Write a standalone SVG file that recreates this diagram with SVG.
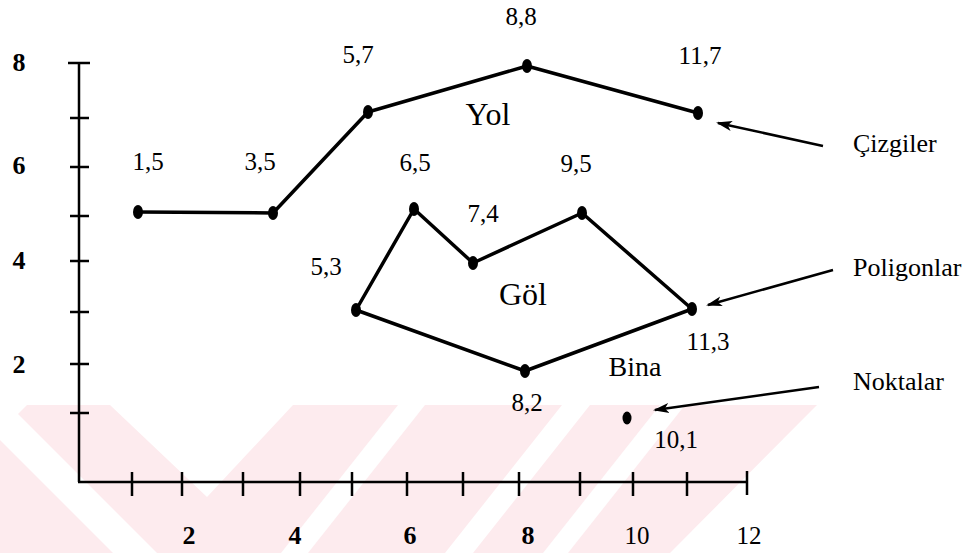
<svg xmlns="http://www.w3.org/2000/svg" width="975" height="553" viewBox="0 0 975 553" font-family="'Liberation Serif', 'Times New Roman', serif">
<style>
text{font-family:"Liberation Serif","Times New Roman",serif;fill:#000}
.n{font-size:25px}
.ax{font-size:26px;font-weight:bold}
.axr{font-size:25px}
.lbl{font-size:26px}
.big{font-size:32px}
.axis{stroke:#000;stroke-width:2.5;fill:none}
.tick{stroke:#000;stroke-width:2.5}
.edge{stroke:#000;stroke-width:3.5;fill:none;stroke-linejoin:round}
.arr{stroke:#000;stroke-width:2.5;fill:none}
.wm{fill:#fdebee}
.wh{fill:#fff}
</style>
<defs>
<marker id="ah" markerWidth="16" markerHeight="12" refX="14" refY="6" orient="auto" markerUnits="userSpaceOnUse">
<path d="M0,1 L16,6 L0,11 L4,6 Z" fill="#000"/>
</marker>
</defs>
<rect width="975" height="553" fill="#fff"/>
<g id="watermark">
<polygon class="wm" points="27,405 817,405 670,553 0,553 0,432"/>
<polygon class="wh" points="110,405 293,405 207,497"/>
<polygon class="wh" points="-35,405 9,405 157,553 113,553"/>
<polygon class="wh" points="398,405 425,405 308,553 281,553"/>
<polygon class="wh" points="562,405 590,405 473,553 445,553"/>
<polygon class="wh" points="660,405 685,405 568,553 543,553"/>
</g>
<g id="axes">
<line class="axis" x1="79" y1="63" x2="79" y2="482"/>
<line class="axis" x1="78" y1="482" x2="747" y2="482"/>
<line class="tick" x1="68" y1="63" x2="90" y2="63"/>
<line class="tick" x1="70" y1="118" x2="89" y2="118"/>
<line class="tick" x1="70" y1="167" x2="89" y2="167"/>
<line class="tick" x1="70" y1="216" x2="89" y2="216"/>
<line class="tick" x1="70" y1="261" x2="89" y2="261"/>
<line class="tick" x1="70" y1="312" x2="89" y2="312"/>
<line class="tick" x1="70" y1="364" x2="89" y2="364"/>
<line class="tick" x1="70" y1="413" x2="89" y2="413"/>
<line class="tick" x1="132" y1="472" x2="132" y2="496"/>
<line class="tick" x1="182" y1="472" x2="182" y2="496"/>
<line class="tick" x1="243" y1="472" x2="243" y2="496"/>
<line class="tick" x1="300" y1="472" x2="300" y2="496"/>
<line class="tick" x1="352" y1="472" x2="352" y2="496"/>
<line class="tick" x1="407" y1="472" x2="407" y2="496"/>
<line class="tick" x1="463" y1="472" x2="463" y2="496"/>
<line class="tick" x1="519" y1="472" x2="519" y2="496"/>
<line class="tick" x1="580" y1="472" x2="580" y2="496"/>
<line class="tick" x1="633" y1="472" x2="633" y2="496"/>
<line class="tick" x1="687" y1="472" x2="687" y2="496"/>
<line class="tick" x1="747" y1="471" x2="747" y2="495"/>
<text class="ax" x="19" y="71" text-anchor="middle">8</text>
<text class="ax" x="19" y="174" text-anchor="middle">6</text>
<text class="ax" x="19" y="269" text-anchor="middle">4</text>
<text class="ax" x="19" y="373" text-anchor="middle">2</text>
<text class="ax" x="189" y="544" text-anchor="middle">2</text>
<text class="ax" x="295" y="544" text-anchor="middle">4</text>
<text class="ax" x="410" y="544" text-anchor="middle">6</text>
<text class="ax" x="528" y="544" text-anchor="middle">8</text>
<text class="axr" x="637" y="544" text-anchor="middle">10</text>
<text class="axr" x="749" y="544" text-anchor="middle">12</text>
</g>
<g id="connectors">
<polyline id="yol-line" class="edge" points="138,212 273,213 368,112 527,66 698,113"/>
<polygon id="gol-polygon" class="edge" points="356,310 414,209 473,263 582,213 692,309 525,371"/>
<line id="arrow-cizgiler" class="arr" x1="823" y1="146" x2="718" y2="123" marker-end="url(#ah)"/>
<line id="arrow-poligonlar" class="arr" x1="833" y1="270" x2="708" y2="305" marker-end="url(#ah)"/>
<line id="arrow-noktalar" class="arr" x1="819" y1="387" x2="655" y2="410" marker-end="url(#ah)"/>
</g>
<g id="p15"><ellipse cx="138" cy="212" rx="5" ry="7"/><text class="n" x="148" y="170" text-anchor="middle">1,5</text></g>
<g id="p35"><ellipse cx="273" cy="213" rx="5" ry="7"/><text class="n" x="260" y="170" text-anchor="middle">3,5</text></g>
<g id="p57"><ellipse cx="368" cy="112" rx="5" ry="7"/><text class="n" x="358" y="63" text-anchor="middle">5,7</text></g>
<g id="p88"><ellipse cx="527" cy="66" rx="5" ry="7"/><text class="n" x="521" y="25" text-anchor="middle">8,8</text></g>
<g id="p117"><ellipse cx="698" cy="113" rx="5" ry="7"/><text class="n" x="700" y="64" text-anchor="middle">11,7</text></g>
<g id="p65"><ellipse cx="414" cy="209" rx="5" ry="7"/><text class="n" x="415" y="171" text-anchor="middle">6,5</text></g>
<g id="p74"><ellipse cx="473" cy="263" rx="5" ry="7"/><text class="n" x="483" y="222" text-anchor="middle">7,4</text></g>
<g id="p95"><ellipse cx="582" cy="213" rx="5" ry="7"/><text class="n" x="576" y="172" text-anchor="middle">9,5</text></g>
<g id="p53"><ellipse cx="356" cy="310" rx="5" ry="7"/><text class="n" x="326" y="275" text-anchor="middle">5,3</text></g>
<g id="p113"><ellipse cx="692" cy="309" rx="5" ry="7"/><text class="n" x="708" y="350" text-anchor="middle">11,3</text></g>
<g id="p82"><ellipse cx="525" cy="371" rx="5" ry="7"/><text class="n" x="527" y="411" text-anchor="middle">8,2</text></g>
<g id="p101"><ellipse cx="627" cy="418" rx="4.5" ry="6.5"/><text class="n" x="676" y="448" text-anchor="middle">10,1</text></g>
<g id="yol"><text class="big" x="488" y="125" text-anchor="middle">Yol</text></g>
<g id="gol"><text class="big" x="523" y="305" text-anchor="middle">Göl</text></g>
<g id="bina"><text class="lbl" x="635" y="376" text-anchor="middle" style="font-size:28px">Bina</text></g>
<g id="cizgiler"><text class="lbl" x="853" y="152">Çizgiler</text></g>
<g id="poligonlar"><text class="lbl" x="853" y="276">Poligonlar</text></g>
<g id="noktalar"><text class="lbl" x="853" y="390">Noktalar</text></g>
</svg>
